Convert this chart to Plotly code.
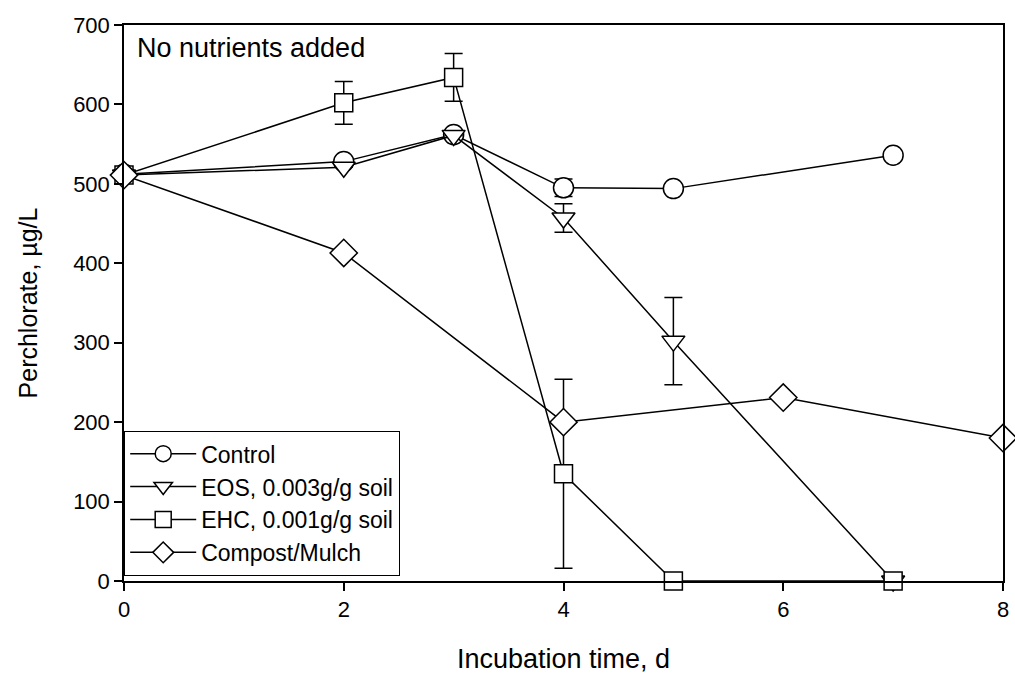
import plotly.graph_objects as go

# Incubation days and perchlorate concentrations (µg/L) with error bars
days = [0, 2, 3, 4, 5, 7]
control = [512, 528, 562, 495, 494, 536]
control_err = [0, 0, 0, 11, 0, 0]

eos = [511, 521, 561, 457, 302, 0]
eos_err = [0, 0, 0, 18, 55, 0]

ehc = [511, 602, 634, 135, 0, 0]
ehc_err = [0, 27, 30, 119, 0, 0]

compost_days = [0, 2, 4, 6, 8]
compost = [511, 413, 200, 231, 180]

x_ticks = [0, 2, 4, 6, 8]
y_ticks = [0, 100, 200, 300, 400, 500, 600, 700]

FONT = "Liberation Sans, Arial, sans-serif"
BLACK = "black"


def series(x, y, name, symbol, size, err=None):
    kw = dict(
        x=x, y=y, name=name, mode="lines+markers",
        line=dict(color=BLACK, width=1.5),
        marker=dict(symbol=symbol, size=size, color="white",
                    line=dict(color=BLACK, width=1.5)),
        cliponaxis=False,
    )
    if err is not None:
        kw["error_y"] = dict(type="data", array=err, visible=True,
                             color=BLACK, thickness=1.5, width=9)
    return go.Scatter(**kw)


fig = go.Figure()
fig.add_trace(series(days, control, "Control", "circle", 20, control_err))
fig.add_trace(series(days, eos, "EOS, 0.003g/g soil", "triangle-down", 20, eos_err))
fig.add_trace(series(days, ehc, "EHC, 0.001g/g soil", "square", 18, ehc_err))
fig.add_trace(series(compost_days, compost, "Compost/Mulch", "diamond", 21))

axis_common = dict(
    showgrid=False, zeroline=False, showline=True, linecolor=BLACK,
    linewidth=1.5, mirror=True, ticks="outside", ticklen=8, tickwidth=1.5,
    tickcolor=BLACK, tickfont=dict(family=FONT, size=22, color=BLACK),
)

fig.update_xaxes(range=[0, 8], tickvals=x_ticks,
                 title=dict(text="Incubation time, d", standoff=28,
                            font=dict(family=FONT, size=27, color=BLACK)),
                 **axis_common)
fig.update_yaxes(range=[0, 700], tickvals=y_ticks,
                 title=dict(text="Perchlorate, µg/L", standoff=28,
                            font=dict(family=FONT, size=25, color=BLACK)),
                 **axis_common)

fig.add_annotation(text="No nutrients added", xref="paper", yref="paper",
                   x=0.013, y=0.959, xanchor="left", yanchor="middle",
                   showarrow=False,
                   font=dict(family=FONT, size=27, color=BLACK))

fig.update_layout(
    width=1015, height=675,
    margin=dict(l=124, r=6, t=25, b=93),
    paper_bgcolor="white", plot_bgcolor="white",
    showlegend=True,
    legend=dict(x=0, y=0.009, xanchor="left", yanchor="bottom",
                bgcolor="white", bordercolor=BLACK, borderwidth=1.2,
                font=dict(family=FONT, size=23, color=BLACK),
                itemwidth=66, tracegroupgap=0),
)

fig.write_html("out.html")
